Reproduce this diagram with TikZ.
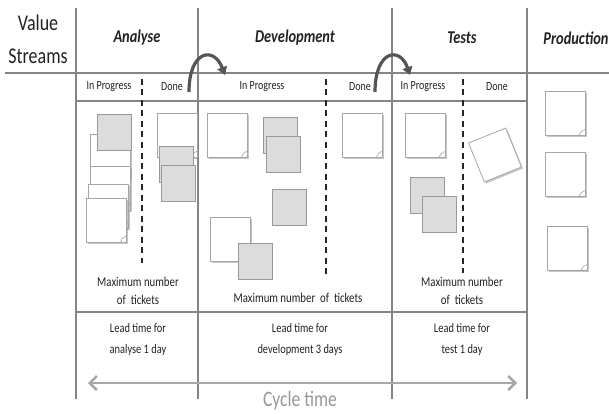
\documentclass[tikz,border=0pt]{standalone}
\usepackage{fontspec}
\setmainfont[FakeStretch=0.8]{Carlito}
\usetikzlibrary{shadows,arrows.meta}
\definecolor{linegray}{HTML}{858585}
\definecolor{arrowdark}{HTML}{555555}
\definecolor{cyclegray}{HTML}{A8A8A8}
\definecolor{notegray}{HTML}{DCDCDC}
\definecolor{textdark}{HTML}{222222}
\begin{document}
\begin{tikzpicture}[x=1pt,y=-1pt,
  gridline/.style={draw=linegray,line width=1.6pt},
  headline/.style={draw=linegray,line width=2.6pt},
  rowline/.style={draw=linegray,line width=1.2pt},
  dashline/.style={draw=black!85,line width=1.1pt,dash pattern=on 6pt off 4.5pt},
  wnote/.style={draw=gray!70,fill=white,line width=0.8pt,minimum width=40pt,minimum height=44pt,inner sep=0pt,
    drop shadow={shadow xshift=1.6pt,shadow yshift=-1.6pt,opacity=0.45},
    path picture={\draw[gray!70,line width=0.6pt] ([xshift=-6pt]path picture bounding box.south east) to[bend left=30] ([yshift=6pt]path picture bounding box.south east);}},
  gnote/.style={draw=gray!80,fill=notegray,line width=0.8pt,minimum width=34pt,minimum height=36pt,inner sep=0pt},
  vstext/.style={font=\fontsize{22.5}{33}\selectfont,text=textdark,align=center,inner sep=0pt},
  colhead/.style={font=\fontsize{18}{21}\selectfont\bfseries\itshape,text=textdark,inner sep=0pt},
  subhead/.style={font=\fontsize{12.5}{14}\selectfont,text=textdark,inner sep=0pt},
  maxtext/.style={font=\fontsize{13.5}{18}\selectfont,text=textdark,align=center,inner sep=0pt},
  leadtext/.style={font=\fontsize{13}{21}\selectfont,text=textdark,align=center,inner sep=0pt},
  movearrow/.style={draw=arrowdark,line width=3.2pt,-{Triangle[length=8pt,width=10pt]}},
  cyclearrow/.style={draw=cyclegray,line width=2.6pt,{Straight Barb[length=7pt,width=14pt]}-{Straight Barb[length=7pt,width=14pt]}}
]
\useasboundingbox (0,0) rectangle (609,414);
% grid lines
\draw[headline] (5,73) -- (609,73);
\draw[rowline] (76,101) -- (527,101);
\draw[gridline] (76,312) -- (527,312);
\foreach \xx in {76,198,392,527} \draw[gridline] (\xx,8) -- (\xx,399);
% dashed separators
\draw[dashline] (142,79) -- (142,263);
\draw[dashline] (326,79) -- (326,275);
\draw[dashline] (463,79) -- (463,273);
% header texts
\node[vstext] (vs) at (38,39) {Value\\Streams};
\node[colhead] (hana) at (137,38) {Analyse};
\node[colhead] (hdev) at (295,38) {Development};
\node[colhead] (htst) at (462,38) {Tests};
\node[colhead] (hprd) at (576,38) {Production};
\node[subhead] (aip) at (109,87) {In Progress};
\node[subhead] (adn) at (172,87) {Done};
\node[subhead] (dip) at (262,87) {In Progress};
\node[subhead] (ddn) at (360,87) {Done};
\node[subhead] (tip) at (423,87) {In Progress};
\node[subhead] (tdn) at (497,87) {Done};
% Analyse in progress
\node[wnote] (aw1) at (110,156) {};
\node[wnote] (aw2) at (110,188) {};
\node[wnote] (aw3) at (108.5,206) {};
\node[wnote] (aw4) at (106.5,220) {};
\node[gnote] (ag1) at (114,132.5) {};
% Analyse done
\node[wnote] (adw) at (177.5,135) {};
\node[gnote] (adg1) at (176.5,164.5) {};
\node[gnote] (adg2) at (178,183.5) {};
% Development in progress
\node[wnote] (dw1) at (227.5,135) {};
\node[gnote] (dg1) at (280,135) {};
\node[gnote] (dg2) at (283,154) {};
\node[gnote] (dg3) at (289,207.5) {};
\node[wnote] (dw2) at (230,239) {};
\node[gnote] (dg4) at (255,261.5) {};
% Development done
\node[wnote] (ddw) at (362.5,135) {};
% Tests in progress
\node[wnote] (tw1) at (425,135.5) {};
\node[gnote] (tg1) at (427,195.5) {};
\node[gnote] (tg2) at (439,214.5) {};
% Tests done
\node[wnote,minimum height=42pt,rotate=22] (tdw) at (495,155) {};
% Production
\node[wnote] (pw1) at (565,113.5) {};
\node[wnote] (pw2) at (565,174.5) {};
\node[wnote] (pw3) at (567,248.5) {};
% max texts
\node[maxtext] (amax) at (138,291) {Maximum number\\of~ tickets};
\node[maxtext] (dmax) at (298,298) {Maximum number~ of~ tickets};
\node[maxtext] (tmax) at (462,291) {Maximum number\\of~ tickets};
% lead times
\node[leadtext] (alead) at (138,340) {Lead time for\\analyse 1 day};
\node[leadtext] (dlead) at (300,340) {Lead time for\\development 3 days};
\node[leadtext] (tlead) at (462,340) {Lead time for\\test 1 day};
% moving arrows
\coordinate (m1s) at (189,92);
\coordinate (m1e) at (225,75);
\coordinate (m2s) at (375,92);
\coordinate (m2e) at (410,75);
\draw[movearrow] (m1s) .. controls (189,50) and (214,46) .. (m1e);
\draw[movearrow] (m2s) .. controls (375,50) and (400,46) .. (m2e);
% cycle time
\coordinate (cl) at (88,383);
\coordinate (cr) at (517,383);
\draw[cyclearrow] (cl) -- (cr);
\node[font=\fontsize{22}{24}\selectfont,text=cyclegray!90!black,inner sep=0pt] (cyc) at (300,401) {Cycle time};
\end{tikzpicture}
\end{document}
